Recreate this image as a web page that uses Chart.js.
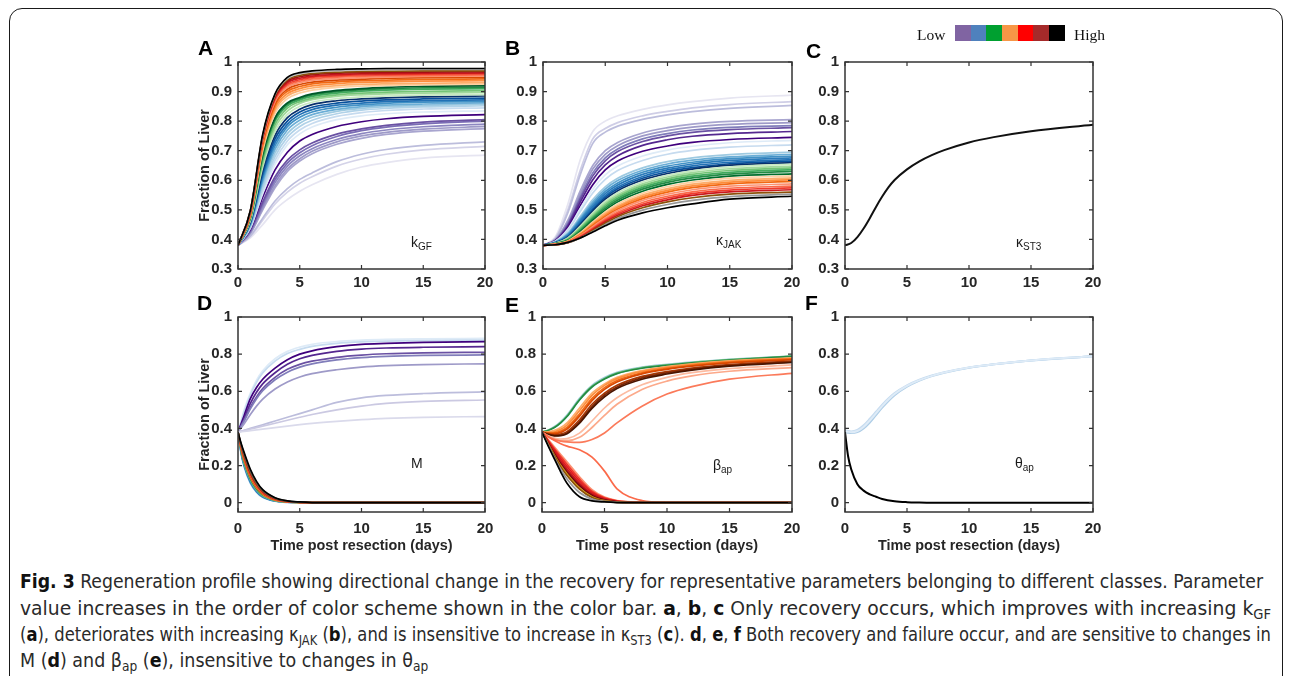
<!DOCTYPE html>
<html><head><meta charset="utf-8">
<script src="https://cdn.jsdelivr.net/npm/chart.js@4.4.1/dist/chart.umd.min.js"></script>
<style>
html,body{margin:0;padding:0;background:#fff;width:1292px;height:676px;overflow:hidden;position:relative;font-family:"Liberation Sans",Arial,sans-serif;}
#frame{position:absolute;left:9px;top:8px;width:1274px;height:720px;border:1.6px solid #1a1a1a;border-radius:13px;box-sizing:border-box;}
canvas{position:absolute;}
.lbl{position:absolute;font-weight:bold;font-size:21px;color:#000;line-height:1;}
.ann{position:absolute;font-size:14px;color:#1a1a1a;line-height:1;white-space:nowrap;}
.ann sub{font-size:10px;vertical-align:-3px;line-height:0;}
#cbar{position:absolute;left:955px;top:25px;height:16px;display:flex;}
#cbar span{display:block;width:15.7px;height:16px;}
.cbt{position:absolute;font-family:"Liberation Serif","Times New Roman",serif;font-size:15.5px;color:#111;line-height:1;}
.cap{position:absolute;left:20px;white-space:nowrap;font-size:19px;line-height:26px;color:#2a2a2a;transform-origin:0 50%;font-family:"Liberation Sans Narrow","DejaVu Sans Condensed","Liberation Sans",Arial,sans-serif;}
.cap b{color:#111;}
.cap sub{font-size:70%;vertical-align:-0.28em;line-height:0;}
</style>
</head><body>
<div id="frame"></div>

<canvas id="cA"></canvas><canvas id="cB"></canvas><canvas id="cC"></canvas>
<canvas id="cD"></canvas><canvas id="cE"></canvas><canvas id="cF"></canvas>

<div class="lbl" style="left:198px;top:37px">A</div>
<div class="lbl" style="left:505px;top:37px">B</div>
<div class="lbl" style="left:806px;top:40px">C</div>
<div class="lbl" style="left:197px;top:292px">D</div>
<div class="lbl" style="left:505px;top:294px">E</div>
<div class="lbl" style="left:805px;top:292px">F</div>

<div class="ann" style="left:411px;top:235px">k<sub>GF</sub></div>
<div class="ann" style="left:716px;top:233px">κ<sub>JAK</sub></div>
<div class="ann" style="left:1016px;top:235px">κ<sub>ST3</sub></div>
<div class="ann" style="left:411px;top:456px">M</div>
<div class="ann" style="left:713px;top:458px">β<sub>ap</sub></div>
<div class="ann" style="left:1015px;top:456px">θ<sub>ap</sub></div>

<div class="cbt" style="left:917px;top:27px">Low</div>
<div id="cbar"></div>
<div class="cbt" style="left:1074px;top:27px">High</div>

<div class="cap" id="c1" style="top:568px"><b>Fig. 3</b> Regeneration profile showing directional change in the recovery for representative parameters belonging to different classes. Parameter</div>
<div class="cap" id="c2" style="top:595px">value increases in the order of color scheme shown in the color bar. <b>a</b>, <b>b</b>, <b>c</b> Only recovery occurs, which improves with increasing k<sub>GF</sub></div>
<div class="cap" id="c3" style="top:621px">(<b>a</b>), deteriorates with increasing κ<sub>JAK</sub> (<b>b</b>), and is insensitive to increase in κ<sub>ST3</sub> (<b>c</b>). <b>d</b>, <b>e</b>, <b>f</b> Both recovery and failure occur, and are sensitive to changes in</div>
<div class="cap" id="c4" style="top:647px">M (<b>d</b>) and β<sub>ap</sub> (<b>e</b>), insensitive to changes in θ<sub>ap</sub></div>

<script>
// ---------------- DATA ----------------
const xTicks = [0, 5, 10, 15, 20];
const yTicksTop = [0.3, 0.4, 0.5, 0.6, 0.7, 0.8, 0.9, 1];
const yLabelsTop = ['0.3', '0.4', '0.5', '0.6', '0.7', '0.8', '0.9', '1'];
const yTicksBot = [0, 0.2, 0.4, 0.6, 0.8, 1];
const yLabelsBot = ['0', '0.2', '0.4', '0.6', '0.8', '1'];
const legendColors = ['#8064a2', '#4f81bd', '#00a030', '#f79646', '#ff0000', '#a52a2a', '#000000'];

// Panel A: k_GF (time points, then curves from low to high parameter)
const tA = [0, 1, 2, 3, 4, 5, 6, 8, 10, 12, 15, 20];
const curvesA = [
  [.38,.405,.45,.50,.535,.563,.585,.62,.645,.66,.675,.685],
  [.38,.41,.465,.52,.56,.59,.612,.648,.672,.688,.703,.715],
  [.38,.412,.472,.53,.572,.603,.625,.663,.688,.704,.718,.73],
  [.38,.42,.50,.575,.63,.665,.69,.722,.742,.755,.766,.775],
  [.38,.422,.505,.582,.638,.673,.698,.73,.75,.762,.773,.782],
  [.38,.425,.512,.592,.648,.683,.707,.738,.758,.77,.781,.79],
  [.38,.428,.52,.602,.658,.693,.717,.748,.768,.78,.791,.80],
  [.38,.43,.527,.612,.668,.703,.726,.756,.774,.786,.797,.805],
  [.38,.435,.543,.635,.695,.733,.755,.782,.798,.808,.816,.822],
  [.38,.438,.555,.655,.72,.757,.78,.805,.818,.825,.831,.835],
  [.38,.44,.565,.667,.733,.77,.792,.816,.829,.836,.841,.845],
  [.38,.443,.575,.68,.746,.782,.803,.825,.837,.843,.848,.852],
  [.38,.446,.585,.693,.758,.793,.813,.833,.843,.849,.853,.857],
  [.38,.449,.595,.705,.77,.803,.822,.84,.849,.854,.858,.862],
  [.38,.452,.605,.717,.781,.813,.831,.847,.855,.86,.864,.867],
  [.38,.455,.615,.728,.79,.822,.839,.854,.861,.866,.869,.872],
  [.38,.458,.625,.74,.80,.831,.847,.861,.868,.872,.875,.878],
  [.38,.46,.635,.752,.812,.84,.856,.869,.875,.879,.882,.885],
  [.38,.463,.645,.765,.823,.85,.864,.876,.882,.885,.888,.89],
  [.38,.466,.655,.777,.834,.86,.873,.884,.889,.892,.895,.897],
  [.38,.469,.665,.788,.844,.866,.878,.889,.895,.898,.901,.903],
  [.38,.472,.675,.80,.852,.872,.884,.895,.901,.905,.908,.91],
  [.38,.474,.683,.806,.858,.877,.889,.9,.906,.91,.913,.915],
  [.38,.476,.69,.812,.862,.88,.892,.904,.91,.914,.918,.92],
  [.38,.478,.70,.826,.876,.895,.905,.914,.918,.921,.923,.925],
  [.38,.48,.708,.836,.885,.903,.912,.92,.924,.926,.928,.93],
  [.38,.482,.715,.845,.893,.91,.919,.927,.931,.933,.935,.937],
  [.38,.484,.722,.853,.901,.917,.926,.933,.937,.939,.941,.943],
  [.38,.486,.728,.86,.908,.924,.932,.939,.942,.945,.947,.948],
  [.38,.488,.733,.866,.914,.93,.938,.944,.947,.949,.951,.952],
  [.38,.49,.737,.871,.92,.935,.943,.949,.952,.953,.955,.956],
  [.38,.492,.741,.876,.925,.94,.948,.953,.956,.957,.959,.96],
  [.38,.494,.745,.88,.93,.945,.952,.957,.96,.961,.962,.963],
  [.38,.495,.748,.884,.935,.95,.957,.962,.964,.965,.966,.967],
  [.38,.496,.75,.887,.94,.955,.961,.966,.968,.969,.97,.97],
  [.38,.497,.752,.89,.944,.96,.966,.971,.973,.974,.975,.975],
  [.38,.498,.755,.892,.948,.964,.97,.975,.977,.978,.978,.978]
];

// Panel B: kappa_JAK (curves from low to high parameter)
const tB = [0, 1, 2, 3, 4, 5, 6, 8, 10, 12, 15, 20];
const curvesB = [
  [.38,.41,.52,.67,.765,.80,.818,.84,.855,.866,.878,.888],
  [.38,.405,.50,.635,.74,.775,.795,.818,.833,.845,.856,.866],
  [.38,.403,.49,.62,.725,.763,.783,.806,.821,.832,.843,.853],
  [.38,.40,.465,.565,.65,.70,.728,.76,.778,.79,.799,.805],
  [.38,.399,.46,.555,.638,.688,.717,.75,.768,.78,.789,.795],
  [.38,.398,.455,.545,.625,.676,.706,.74,.758,.77,.779,.785],
  [.38,.397,.45,.537,.615,.666,.697,.731,.75,.762,.771,.778],
  [.38,.396,.445,.527,.602,.652,.683,.718,.737,.749,.758,.765],
  [.38,.395,.44,.515,.585,.635,.665,.698,.716,.728,.738,.745],
  [.38,.394,.435,.505,.57,.618,.648,.682,.702,.715,.727,.735],
  [.38,.393,.43,.495,.557,.603,.633,.667,.688,.701,.712,.72],
  [.38,.392,.422,.478,.535,.578,.607,.642,.663,.676,.687,.695],
  [.38,.391,.419,.472,.527,.57,.599,.634,.655,.668,.679,.688],
  [.38,.39,.416,.467,.52,.562,.591,.627,.648,.661,.673,.682],
  [.38,.389,.413,.462,.513,.555,.584,.62,.641,.655,.667,.676],
  [.38,.389,.411,.457,.507,.548,.577,.613,.635,.649,.661,.67],
  [.38,.388,.409,.453,.501,.542,.571,.607,.629,.643,.656,.665],
  [.38,.388,.407,.449,.496,.536,.565,.601,.623,.638,.651,.66],
  [.38,.387,.405,.445,.49,.529,.558,.594,.617,.632,.645,.655],
  [.38,.387,.403,.441,.485,.523,.551,.588,.611,.626,.639,.648],
  [.38,.386,.401,.437,.479,.517,.545,.582,.605,.62,.633,.642],
  [.38,.386,.399,.433,.474,.511,.539,.576,.599,.614,.627,.636],
  [.38,.385,.397,.429,.469,.505,.533,.57,.593,.608,.621,.63],
  [.38,.385,.396,.426,.464,.499,.527,.563,.586,.601,.614,.622],
  [.38,.384,.395,.423,.459,.493,.52,.556,.579,.594,.607,.615],
  [.38,.384,.394,.42,.455,.488,.514,.55,.572,.587,.6,.608],
  [.38,.384,.393,.418,.451,.483,.509,.544,.566,.581,.594,.602],
  [.38,.383,.392,.415,.447,.478,.503,.538,.56,.575,.588,.596],
  [.38,.383,.391,.413,.443,.473,.498,.532,.553,.568,.58,.588],
  [.38,.383,.39,.411,.439,.468,.492,.525,.546,.561,.573,.58],
  [.38,.382,.39,.409,.436,.464,.487,.519,.54,.555,.567,.574],
  [.38,.382,.389,.407,.433,.46,.482,.514,.534,.549,.561,.568],
  [.38,.382,.389,.406,.43,.455,.477,.507,.527,.541,.553,.56],
  [.38,.382,.389,.405,.427,.45,.471,.499,.518,.532,.545,.553],
  [.38,.382,.39,.405,.425,.446,.465,.49,.507,.52,.536,.546]
];

// Panel C: kappa_ST3 (all parameter values give the same profile)
const tC = [0, 0.5, 1, 1.5, 2, 2.5, 3, 3.5, 4, 5, 6, 7, 8, 10, 12, 15, 20];
const curvesC = [
  [.38,.388,.408,.437,.472,.51,.545,.576,.601,.637,.664,.685,.702,.728,.746,.766,.788]
];

// Panel D: M (recovering curves, then failing curves)
const tD = [0, 0.25, 0.5, 1, 1.5, 2, 3, 4, 5, 6, 8, 10, 12, 15, 20];
const curvesD = [
  [.38,.44,.50,.59,.66,.71,.775,.815,.838,.853,.868,.875,.879,.882,.885],
  [.38,.435,.49,.58,.648,.698,.762,.803,.826,.842,.858,.866,.87,.873,.876],
  [.38,.425,.47,.56,.62,.665,.725,.77,.80,.818,.84,.853,.858,.863,.867],
  [.38,.418,.455,.535,.595,.64,.70,.745,.775,.793,.815,.827,.833,.837,.84],
  [.38,.412,.445,.515,.57,.615,.675,.718,.745,.762,.783,.795,.802,.807,.81],
  [.38,.41,.44,.505,.56,.603,.662,.703,.73,.748,.769,.781,.788,.793,.796],
  [.38,.402,.425,.475,.52,.558,.612,.65,.677,.695,.716,.73,.738,.744,.748],
  [.38,.385,.39,.40,.41,.42,.44,.46,.48,.50,.54,.565,.578,.588,.597],
  [.38,.384,.388,.396,.404,.412,.428,.444,.46,.475,.50,.52,.535,.546,.553],
  [.38,.382,.384,.388,.392,.396,.404,.412,.42,.427,.438,.447,.454,.46,.464],
  [.38,.265,.194,.106,.057,.029,.008,.002,.001,0,0,0,0,0,0],
  [.38,.27,.20,.112,.061,.032,.009,.003,.001,0,0,0,0,0,0],
  [.38,.275,.206,.118,.065,.035,.01,.003,.001,0,0,0,0,0,0],
  [.38,.28,.213,.124,.07,.038,.011,.004,.001,0,0,0,0,0,0],
  [.38,.285,.22,.13,.075,.042,.013,.004,.001,0,0,0,0,0,0],
  [.38,.29,.227,.136,.08,.045,.014,.005,.001,0,0,0,0,0,0],
  [.38,.295,.234,.143,.085,.049,.016,.005,.002,0,0,0,0,0,0],
  [.38,.30,.241,.15,.09,.053,.018,.006,.002,0,0,0,0,0,0],
  [.38,.305,.248,.157,.096,.057,.02,.007,.002,0,0,0,0,0,0],
  [.38,.31,.255,.165,.102,.062,.023,.008,.003,.001,0,0,0,0,0],
  [.38,.315,.262,.172,.108,.066,.025,.009,.003,.001,0,0,0,0,0],
  [.38,.32,.27,.18,.115,.07,.027,.01,.004,.001,0,0,0,0,0]
];

// Panel E: beta_ap (recovering curves, then failing curves)
const tE = [0, 0.5, 1, 1.5, 2, 3, 4, 5, 6, 8, 10, 12, 15, 20];
const curvesE = [
  [.38,.392,.41,.437,.472,.562,.632,.674,.702,.73,.745,.757,.772,.79],
  [.38,.39,.407,.433,.467,.556,.627,.669,.698,.727,.742,.755,.77,.789],
  [.38,.389,.405,.43,.464,.553,.623,.666,.695,.724,.74,.753,.768,.788],
  [.38,.382,.39,.405,.43,.51,.59,.64,.675,.712,.733,.748,.764,.78],
  [.38,.378,.382,.395,.418,.495,.578,.632,.668,.707,.729,.745,.761,.777],
  [.38,.375,.376,.386,.405,.478,.562,.62,.658,.70,.723,.74,.757,.774],
  [.38,.373,.372,.379,.396,.466,.55,.61,.65,.694,.718,.735,.753,.771],
  [.38,.37,.366,.37,.383,.447,.53,.59,.632,.68,.706,.725,.744,.763],
  [.38,.368,.362,.364,.376,.436,.518,.58,.623,.672,.699,.719,.739,.758],
  [.38,.367,.36,.361,.371,.428,.508,.57,.615,.665,.693,.714,.735,.755],
  [.38,.36,.348,.343,.345,.375,.44,.51,.565,.635,.675,.70,.722,.742],
  [.38,.357,.343,.335,.334,.352,.405,.47,.53,.61,.655,.683,.708,.727],
  [.38,.355,.34,.332,.328,.325,.34,.375,.43,.52,.585,.625,.665,.697],
  [.38,.355,.335,.318,.305,.285,.245,.17,.075,.012,.001,0,0,0],
  [.38,.34,.30,.26,.22,.14,.07,.03,.012,.002,0,0,0,0],
  [.38,.335,.29,.248,.207,.128,.062,.026,.01,.001,0,0,0,0],
  [.38,.33,.282,.237,.195,.117,.055,.022,.008,.001,0,0,0,0],
  [.38,.325,.273,.226,.183,.106,.048,.019,.006,0,0,0,0,0],
  [.38,.32,.265,.215,.172,.097,.043,.016,.005,0,0,0,0,0],
  [.38,.318,.26,.207,.163,.09,.038,.014,.004,0,0,0,0,0],
  [.38,.315,.255,.20,.155,.08,.032,.011,.003,0,0,0,0,0],
  [.38,.313,.25,.193,.147,.073,.028,.009,.002,0,0,0,0,0],
  [.38,.31,.242,.18,.128,.055,.02,.007,.002,0,0,0,0,0],
  [.38,.305,.235,.165,.105,.032,.01,.004,.001,0,0,0,0,0]
];

// Panel F: theta_ap
const tF = [0, 0.25, 0.5, 1, 1.5, 2, 2.5, 3, 4, 5, 6, 7, 8, 10, 12, 15, 20];
const curvesF = [
  [.39,.386,.384,.392,.417,.452,.49,.528,.59,.632,.662,.685,.702,.728,.746,.766,.789],
  [.38,.377,.375,.38,.40,.432,.472,.512,.579,.625,.658,.682,.70,.727,.745,.766,.788],
  [.385,.382,.38,.386,.408,.442,.481,.52,.585,.629,.66,.683,.701,.728,.746,.766,.789],
  [.38,.25,.18,.10,.065,.045,.032,.02,.008,.003,.001,0,0,0,0,0,0]
];

// ---------------- STYLES ----------------
const colorsA = ['#e6e5f1','#d4d3e8','#bcbddc','#a8a5cf','#9e9ac8','#8c86c0','#7a6db5','#6a51a3','#3f007d',
  '#deebf7','#c6dbef','#b0d2e8','#9ecae1','#6baed6','#4292c6','#2171b5','#08519c','#08306b',
  '#c7e9c0','#a1d99b','#74c476','#41ab5d','#238b45','#00592a',
  '#fdd0a2','#fdae6b','#fd8d3c','#f16913','#d94801',
  '#fc9272','#fb6a4a','#ef3b2c','#cb181d','#a50f15','#8c510a','#bdbdbd','#000000'];
const colorsB = ['#e6e5f1','#cfcee6','#bcbddc','#a8a5cf','#9e9ac8','#807dba','#6a51a3','#54278f','#3f007d',
  '#deebf7','#c6dbef','#9ecae1','#6baed6','#4292c6','#2b7bba','#2171b5','#08519c','#08306b',
  '#c7e9c0','#a1d99b','#74c476','#41ab5d','#238b45','#006d2c',
  '#fdd0a2','#fdae6b','#fd8d3c','#f16913',
  '#fc9272','#fb6a4a','#ef3b2c','#cb181d','#8c510a','#969696','#000000'];
const colorsC = ['#111111'];
const colorsD = ['#deebf7','#c6dbef','#3f007d','#54278f','#6a51a3','#807dba','#9e9ac8','#bcbddc','#cbc9e2','#dadaeb',
  '#6baed6','#2171b5','#4292c6','#74c476','#238b45','#fd8d3c','#d94801','#fb6a4a','#cb181d','#8c510a','#636363','#000000'];
const colorsE = ['#9ecae1','#74c476','#238b45','#fdae6b','#fd8d3c','#f16913','#d94801','#a63603','#7f2704','#4a1500',
  '#fcbba1','#fca98a','#fb7a5a',
  '#fb6a4a','#fc9272','#ef3b2c','#e31a1c','#cb181d','#a50f15','#67000d','#d4a017','#8c510a','#969696','#000000'];
const colorsF = ['#c6dbef','#aecde6','#deebf7','#000000'];

Chart.defaults.font.family = '"Liberation Sans", Arial, sans-serif';
Chart.defaults.color = '#262626';

const framePlugin = {
  id: 'frame',
  afterDraw(chart) {
    const {ctx, chartArea: a, scales: {x, y}} = chart;
    ctx.save();
    ctx.strokeStyle = '#333333';
    ctx.lineWidth = 1.5;
    ctx.strokeRect(a.left, a.top, a.right - a.left, a.bottom - a.top);
    ctx.lineWidth = 1.2;
    ctx.beginPath();
    x.ticks.forEach(t => { const p = x.getPixelForValue(t.value);
      ctx.moveTo(p, a.bottom); ctx.lineTo(p, a.bottom - 4); ctx.moveTo(p, a.top); ctx.lineTo(p, a.top + 4); });
    y.ticks.forEach(t => { const p = y.getPixelForValue(t.value);
      ctx.moveTo(a.left, p); ctx.lineTo(a.left + 4, p); ctx.moveTo(a.right, p); ctx.lineTo(a.right - 4, p); });
    ctx.stroke();
    ctx.restore();
  }
};

function makePanel(id, box, T, curves, colors, cfg) {
  const YW = 60, PT = 12, PR = 20;
  const XH = cfg.bottomRow ? 50 : 32;
  const cv = document.getElementById(id);
  const w = YW + box.W + PR, h = PT + box.H + XH;
  cv.width = w; cv.height = h;
  cv.style.left = (box.L - YW) + 'px'; cv.style.top = (box.T - PT) + 'px';
  cv.style.width = w + 'px'; cv.style.height = h + 'px';
  const datasets = curves.map((c, i) => ({
    data: c.map((v, j) => ({x: T[j], y: v})),
    borderColor: colors[i], borderWidth: cfg.lw || 1.7,
    pointRadius: 0, fill: false, cubicInterpolationMode: 'monotone', order: -i
  }));
  const yT = cfg.bottomRow ? yTicksBot : yTicksTop;
  const yL = cfg.bottomRow ? yLabelsBot : yLabelsTop;
  new Chart(cv, {
    type: 'line',
    data: {datasets},
    options: {
      responsive: false, animation: false, devicePixelRatio: 1,
      layout: {padding: {left: 0, top: PT, right: PR, bottom: 0}},
      plugins: {legend: {display: false}, tooltip: {enabled: false}},
      scales: {
        x: {
          type: 'linear', min: 0, max: 20,
          grid: {display: false, drawTicks: false, tickLength: 0}, border: {display: false},
          afterBuildTicks: s => { s.ticks = xTicks.map(v => ({value: v})); },
          afterFit: s => { s.height = XH; },
          ticks: {font: {size: 15, weight: 'bold'}, color: '#262626', padding: cfg.bottomRow ? 8 : 5, maxRotation: 0, autoSkip: false,
            callback: v => String(v)},
          title: {display: !!cfg.bottomRow, text: 'Time post resection (days)', color: '#262626',
            font: {size: 14.4, weight: 'bold'}, padding: {top: 0, bottom: 7}}
        },
        y: {
          type: 'linear', min: cfg.bottomRow ? -0.05 : 0.3, max: 1,
          grid: {display: false, drawTicks: false, tickLength: 0}, border: {display: false},
          afterBuildTicks: s => { s.ticks = yT.map(v => ({value: v})); },
          afterFit: s => { s.width = YW; },
          ticks: {font: {size: 15, weight: 'bold'}, color: '#262626', padding: 6, autoSkip: false,
            callback: v => { const k = yT.findIndex(t => Math.abs(t - v) < 1e-9); return k >= 0 ? yL[k] : ''; }},
          title: {display: !!cfg.yTitle, text: 'Fraction of Liver', color: '#262626',
            font: {size: 14.4, weight: 'bold'}, padding: {top: 18, bottom: 0}}
        }
      }
    },
    plugins: [framePlugin]
  });
}

makePanel('cA', {L: 238, T: 59, W: 247, H: 210}, tA, curvesA, colorsA, {yTitle: true});
makePanel('cB', {L: 543, T: 59, W: 249, H: 210}, tB, curvesB, colorsB, {});
makePanel('cC', {L: 845, T: 59, W: 248, H: 210}, tC, curvesC, colorsC, {lw: 2});
makePanel('cD', {L: 238, T: 314, W: 247, H: 198}, tD, curvesD, colorsD, {yTitle: true, bottomRow: true});
makePanel('cE', {L: 542, T: 314, W: 250, H: 198}, tE, curvesE, colorsE, {bottomRow: true});
makePanel('cF', {L: 845, T: 314, W: 248, H: 198}, tF, curvesF, colorsF, {bottomRow: true, lw: 2});

// colour bar
const cbar = document.getElementById('cbar');
legendColors.forEach(c => { const s = document.createElement('span'); s.style.background = c; cbar.appendChild(s); });

// caption: fit lines to their widths in the reference
function fitCaption() {
  const targets = {c1: 1243, c2: 1251, c3: 1251};
  let sum = 0, n = 0;
  for (const id in targets) {
    const el = document.getElementById(id);
    el.style.transform = 'none';
    const w = el.getBoundingClientRect().width;
    const s = targets[id] / w;
    el.style.transform = 'scaleX(' + s + ')';
    sum += s; n++;
  }
  const el4 = document.getElementById('c4');
  el4.style.transform = 'scaleX(' + (sum / n) + ')';
}
fitCaption();
if (document.fonts && document.fonts.ready) document.fonts.ready.then(fitCaption);
</script>
</body></html>
